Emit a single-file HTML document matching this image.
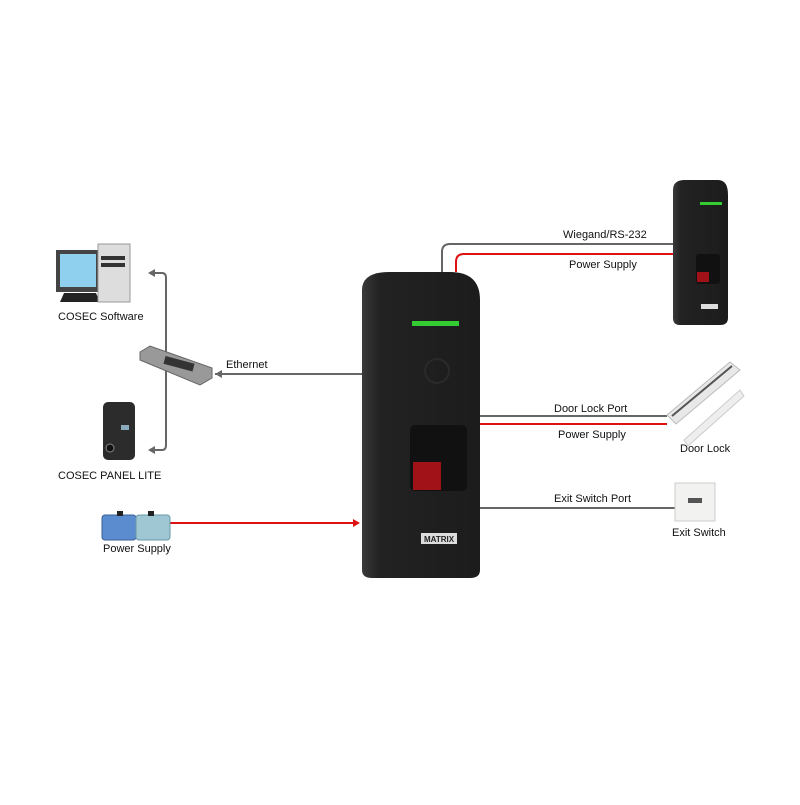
<!DOCTYPE html>
<html><head><meta charset="utf-8"><style>
html,body{margin:0;padding:0;background:#fff;}
svg text{font-family:"Liberation Sans",sans-serif;font-size:11px;fill:#111;}
</style></head><body>
<svg width="800" height="800" viewBox="0 0 800 800" xmlns="http://www.w3.org/2000/svg">
<defs>
<linearGradient id="dev" x1="0" x2="1"><stop offset="0" stop-color="#3a3a3a"/><stop offset="0.15" stop-color="#222"/><stop offset="1" stop-color="#1c1c1c"/></linearGradient>
</defs>
<!-- connectors -->
<g fill="none" stroke-width="2">
<path d="M442 272 V252 Q442 244 450 244 H675" stroke="#666"/>
<path d="M456 272 V262 Q456 254 464 254 H675" stroke="#d11"/>
<path d="M478 416 H667" stroke="#666"/>
<path d="M478 424 H667" stroke="#d11"/>
<path d="M478 508 H675" stroke="#666"/>
<path d="M362 374 H215" stroke="#666"/>
<path d="M150 273 H162 Q166 273 166 278 V445 Q166 450 162 450 H150" stroke="#666"/>
<path d="M170 523 H355" stroke="#d11"/>
</g>
<polygon points="215,374 222,370 222,378" fill="#666"/>
<polygon points="148,273 155,269 155,277" fill="#666"/>
<polygon points="148,450 155,446 155,454" fill="#666"/>
<polygon points="360,523 353,519 353,527" fill="#d11"/>
<!-- main device -->
<path d="M362 290 Q362 272 390 272 H450 Q480 272 480 300 V570 Q480 578 470 578 H372 Q362 578 362 570 Z" fill="url(#dev)"/>
<rect x="412" y="321" width="47" height="5" fill="#3c3"/>
<circle cx="437" cy="371" r="12" fill="none" stroke="#2a2a2a" stroke-width="2"/>
<rect x="410" y="425" width="57" height="66" rx="5" fill="#111"/>
<rect x="413" y="462" width="28" height="28" fill="#a01218"/>
<rect x="421" y="533" width="36" height="11" fill="#ddd"/>
<text x="424" y="542" style="font-size:8px;font-weight:bold;fill:#222">MATRIX</text>
<!-- small device -->
<path d="M673 190 Q673 180 685 180 H718 Q728 180 728 195 V318 Q728 325 720 325 H680 Q673 325 673 318 Z" fill="url(#dev)"/>
<rect x="700" y="202" width="22" height="3" fill="#3c3"/>
<rect x="696" y="254" width="24" height="30" rx="3" fill="#111"/>
<rect x="697" y="272" width="12" height="10" fill="#a01218"/>
<rect x="701" y="304" width="17" height="5" fill="#ddd"/>
<!-- door lock -->
<polygon points="667,415 730,362 740,370 676,424" fill="#e8e8e8" stroke="#bbb"/>
<polygon points="684,440 740,390 744,396 688,446" fill="#eee" stroke="#ccc"/>
<line x1="672" y1="416" x2="732" y2="366" stroke="#555" stroke-width="2"/>
<!-- exit switch -->
<rect x="675" y="483" width="40" height="38" fill="#f2f2f0" stroke="#ccc"/>
<rect x="688" y="498" width="14" height="5" fill="#555"/>
<!-- computer -->
<rect x="56" y="250" width="44" height="42" fill="#444"/>
<rect x="60" y="254" width="36" height="33" fill="#8fd0ee"/>
<polygon points="64,293 96,293 100,302 60,302" fill="#222"/>
<rect x="98" y="244" width="32" height="58" fill="#ddd" stroke="#999"/>
<rect x="101" y="256" width="24" height="4" fill="#333"/>
<rect x="101" y="263" width="24" height="4" fill="#333"/>
<!-- switch -->
<polygon points="140,352 150,346 212,368 212,378 200,385 140,360" fill="#999" stroke="#666"/>
<rect x="164" y="360" width="30" height="8" fill="#333" transform="rotate(15 180 364)"/>
<!-- panel lite -->
<rect x="103" y="402" width="32" height="58" rx="5" fill="#2c2c2c"/>
<circle cx="110" cy="448" r="4" fill="#111" stroke="#888"/>
<rect x="121" y="425" width="8" height="5" fill="#8ab"/>
<!-- power supply -->
<rect x="102" y="515" width="34" height="25" rx="3" fill="#5a8ccf" stroke="#3a5f94"/>
<rect x="136" y="515" width="34" height="25" rx="3" fill="#9ec6d3" stroke="#6a98a8"/>
<rect x="117" y="511" width="6" height="5" fill="#222"/>
<rect x="148" y="511" width="6" height="5" fill="#222"/>
<!-- labels -->
<text x="58" y="320">COSEC Software</text>
<text x="226" y="368">Ethernet</text>
<text x="58" y="479">COSEC PANEL LITE</text>
<text x="103" y="552">Power Supply</text>
<text x="563" y="238">Wiegand/RS-232</text>
<text x="569" y="268">Power Supply</text>
<text x="554" y="412">Door Lock Port</text>
<text x="558" y="438">Power Supply</text>
<text x="680" y="452">Door Lock</text>
<text x="554" y="502">Exit Switch Port</text>
<text x="672" y="536">Exit Switch</text>
</svg>
</body></html>
